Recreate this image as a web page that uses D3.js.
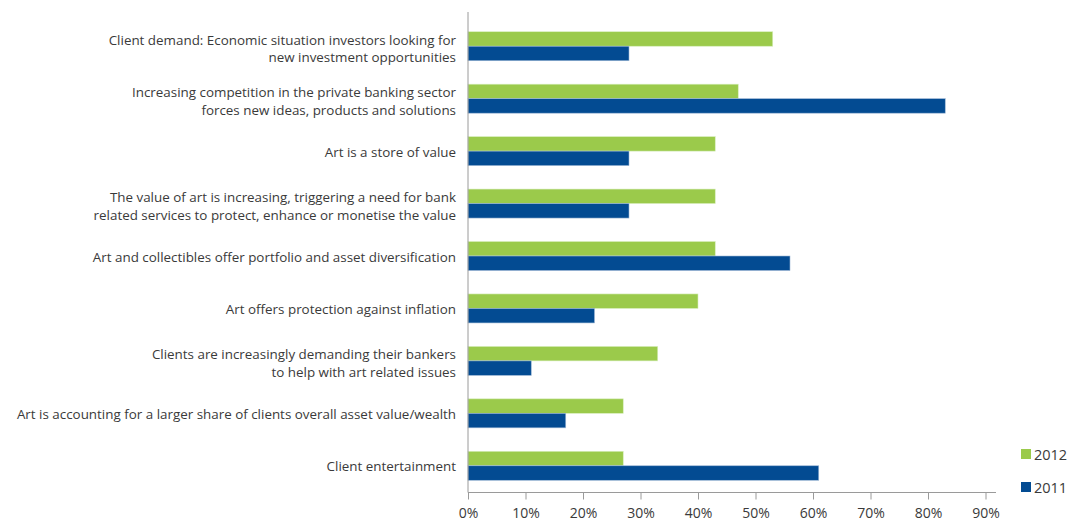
<!DOCTYPE html>
<html lang="en">
<head>
    <meta charset="UTF-8">
    <title>Motivations for art-related services</title>
    <script src="https://cdnjs.cloudflare.com/ajax/libs/d3/7.8.5/d3.min.js"></script>
    <style>
        body {
            margin: 0;
            background-color: white;
        }

        #chart text {
            font-family: "Open Sans", sans-serif;
            fill: #3a3a3a;
        }
    </style>
</head>
<body>
<section id="chart"></section>
<script>
    const categories = [
        ['Client demand: Economic situation investors looking for', 'new investment opportunities'],
        ['Increasing competition in the private banking sector', 'forces new ideas, products and solutions'],
        ['Art is a store of value'],
        ['The value of art is increasing, triggering a need for bank', 'related services to protect, enhance or monetise the value'],
        ['Art and collectibles offer portfolio and asset diversification'],
        ['Art offers protection against inflation'],
        ['Clients are increasingly demanding their bankers', 'to help with art related issues'],
        ['Art is accounting for a larger share of clients overall asset value/wealth'],
        ['Client entertainment']
    ];
    const values2012 = [53, 47, 43, 43, 43, 40, 33, 27, 27];
    const values2011 = [28, 83, 28, 28, 56, 22, 11, 17, 61];
    const seriesNames = ['2012', '2011'];
    const ticks = [0, 10, 20, 30, 40, 50, 60, 70, 80, 90];

    const width = 1079;
    const height = 522;
    const colors = {'2012': '#9bca4b', '2011': '#034b92'};

    const svg = d3.select('#chart')
        .append('svg')
        .attr('width', width)
        .attr('height', height);

    const x = d3.scaleLinear().domain([0, 90]).range([468, 985.5]);
    const y = d3.scaleBand().domain(d3.range(categories.length)).range([20, 492]);
    const sub = d3.scaleBand().domain(seriesNames).range([0, 29]);
    const bandPad = (y.bandwidth() - 29) / 2;

    const rows = categories.map((c, i) => ({i, label: c, '2012': values2012[i], '2011': values2011[i]}));

    const groups = svg.append('g')
        .selectAll('g')
        .data(rows)
        .enter()
        .append('g')
        .attr('transform', d => `translate(0, ${y(d.i) + bandPad})`);

    groups.selectAll('rect')
        .data(d => seriesNames.map(s => ({s, v: d[s]})))
        .enter()
        .append('rect')
        .attr('x', x(0))
        .attr('y', d => sub(d.s))
        .attr('width', d => x(d.v) - x(0))
        .attr('height', sub.bandwidth())
        .attr('fill', d => colors[d.s])
        .attr('stroke', d => d.s === '2012' ? '#d9efc0' : '#9fb8d6')
        .attr('stroke-width', 0.6);

    // category labels
    const labels = svg.append('g')
        .selectAll('text')
        .data(rows)
        .enter()
        .append('text')
        .attr('text-anchor', 'end')
        .attr('font-size', 13.4)
        .attr('y', d => y(d.i) + y.bandwidth() / 2 + 5.5 - (d.label.length - 1) * 7);

    labels.selectAll('tspan')
        .data(d => d.label)
        .enter()
        .append('tspan')
        .attr('x', 456)
        .attr('dy', (_, j) => j === 0 ? 0 : 17.5)
        .text(d => d);

    // axes
    const xAxis = d3.axisBottom(x).tickValues(ticks).tickSize(7).tickSizeOuter(0)
        .tickFormat(d => `${d}%`);
    const gx = svg.append('g')
        .attr('transform', 'translate(0, 492.5)')
        .call(xAxis);
    gx.select('.domain').attr('stroke', '#9a9a9a').attr('d', `M${x(0)},0H996`);
    gx.selectAll('.tick line').attr('stroke', '#9a9a9a');
    gx.selectAll('.tick text').attr('font-size', 14).attr('dy', 0).attr('y', 25);

    svg.append('line')
        .attr('x1', x(0)).attr('x2', x(0))
        .attr('y1', 12).attr('y2', 492.5)
        .attr('stroke', '#9a9a9a');

    // legend
    const legend = svg.append('g')
        .selectAll('g')
        .data(seriesNames)
        .enter()
        .append('g')
        .attr('transform', (_, i) => `translate(1021, ${449 + i * 33})`);
    legend.append('rect')
        .attr('width', 10).attr('height', 10)
        .attr('fill', d => colors[d]);
    legend.append('text')
        .attr('x', 13).attr('y', 11)
        .attr('font-size', 14.5)
        .text(d => d);
</script>
</body>
</html>
